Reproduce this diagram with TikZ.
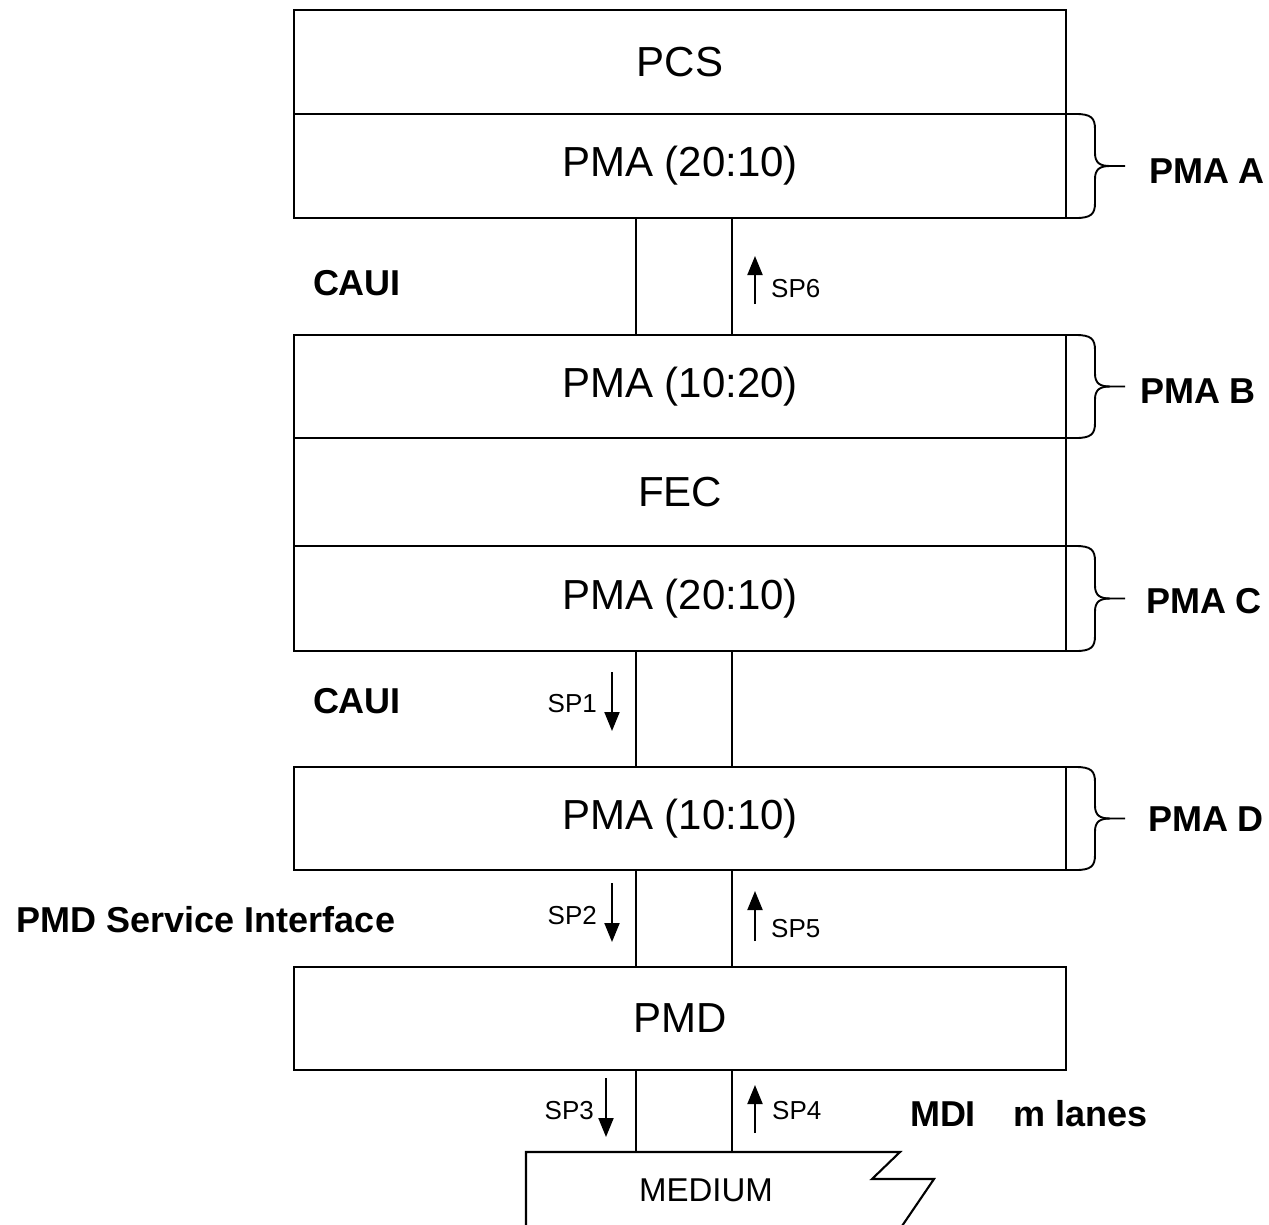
\documentclass[tikz,border=0pt]{standalone}
\usepackage{fontspec}
\setmainfont{Liberation Sans}
\usetikzlibrary{arrows.meta}
\begin{document}
\begin{tikzpicture}[x=1pt,y=-1pt,
  layer/.style={draw,line width=2.1pt,minimum width=772pt,inner sep=0pt,font=\fontsize{42}{50}\selectfont},
  linkbox/.style={draw,line width=2.1pt,minimum width=96pt,inner sep=0pt},
  lbl/.style={font=\fontsize{36}{42}\selectfont\bfseries,inner sep=0pt},
  splbl/.style={font=\fontsize{26}{30}\selectfont,inner sep=0pt},
  sparrow/.style={line width=2pt,-{Triangle[length=19pt,width=15pt]}},
  bracestyle/.style={line width=1.9pt}]
\useasboundingbox (0,0) rectangle (1269,1224);
% layers
\node[layer,minimum height=104pt] (pcs) at (680,62) {PCS};
\node[layer,minimum height=104pt] (pmaA) at (680,166) {PMA (20:10)};
\node[linkbox,minimum height=117pt] (link1) at (684,276.5) {};
\node[layer,minimum height=103pt] (pmaB) at (680,386.5) {PMA (10:20)};
\node[layer,minimum height=108pt] (fec) at (680,492) {FEC};
\node[layer,minimum height=105pt] (pmaC) at (680,598.5) {PMA (20:10)};
\node[linkbox,minimum height=116pt] (link2) at (684,709) {};
\node[layer,minimum height=103pt] (pmaD) at (680,818.5) {PMA (10:10)};
\node[linkbox,minimum height=97pt] (link3) at (684,918.5) {};
\node[layer,minimum height=103pt] (pmd) at (680,1018.5) {PMD};
\node[linkbox,minimum height=82pt] (link4) at (684,1111) {};
% medium
\draw[line width=2.1pt,line join=miter] (526,1226) -- (526,1152) -- (900,1152) -- (872,1179) -- (934,1179) -- (902,1226);
\node[font=\fontsize{33}{40}\selectfont,inner sep=0pt] (medium) at (706,1190) {MEDIUM};
% braces
\foreach \t/\b in {114/218, 335/438, 546/651, 767/870} {
  \pgfmathsetmacro\m{(\t+\b)/2}
  \draw[bracestyle] (1066,\t) -- (1076,\t) .. controls (1091,\t) and (1095,\t+4) .. (1095,\t+15)
    -- (1095,\m-13) .. controls (1095,\m-3) and (1100,\m) .. (1110,\m) -- (1125,\m);
  \draw[bracestyle] (1110,\m) .. controls (1100,\m) and (1095,\m+3) .. (1095,\m+13)
    -- (1095,\b-15) .. controls (1095,\b-4) and (1091,\b) .. (1076,\b) -- (1066,\b);
}
\node[lbl] (labA) at (1207,171) {PMA A};
\node[lbl] (labB) at (1198,391) {PMA B};
\node[lbl] (labC) at (1204,601) {PMA C};
\node[lbl] (labD) at (1206,819) {PMA D};
\node[lbl] (caui1) at (357,283) {CAUI};
\node[lbl] (caui2) at (357,701) {CAUI};
\node[lbl] (pmdsi) at (206,920) {PMD Service Interface};
\node[lbl] (mdi) at (943,1114) {MDI};
\node[lbl] (lanes) at (1081,1114) {m lanes};
% SP arrows
\draw[sparrow] (755,304) -- (755,256);
\node[splbl,anchor=west] (sp6) at (771,289) {SP6};
\draw[sparrow] (612,672) -- (612,731);
\node[splbl,anchor=east] (sp1) at (597,704) {SP1};
\draw[sparrow] (612,883) -- (612,942);
\node[splbl,anchor=east] (sp2) at (597,916) {SP2};
\draw[sparrow] (755,941) -- (755,891);
\node[splbl,anchor=west] (sp5) at (771,929) {SP5};
\draw[sparrow] (606,1078) -- (606,1137);
\node[splbl,anchor=east] (sp3) at (594,1111) {SP3};
\draw[sparrow] (755,1133) -- (755,1085);
\node[splbl,anchor=west] (sp4) at (772,1111) {SP4};
\end{tikzpicture}
\end{document}
